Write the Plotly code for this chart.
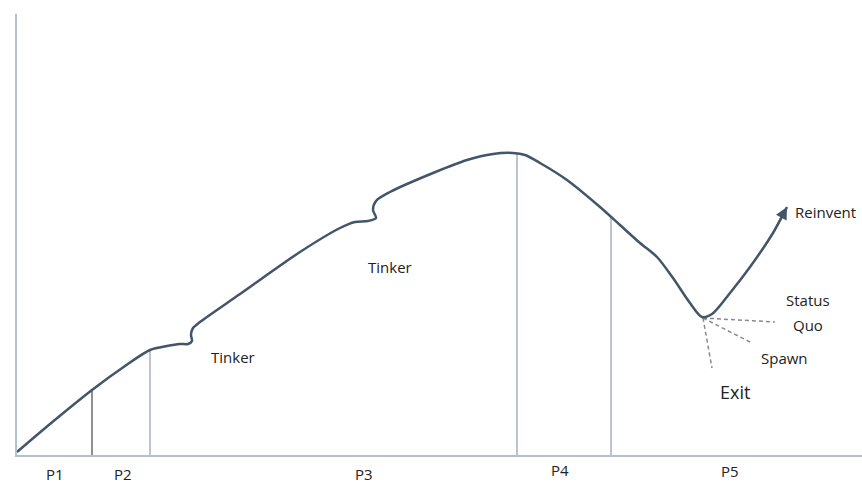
import plotly.graph_objects as go

# Main lifecycle curve (x, level)
curve_x = [17, 50, 92, 125, 150, 167, 180, 188, 192, 191, 193, 200, 240, 300, 340, 355, 368, 376, 373, 376, 390,
           433, 467, 493, 513, 525, 540, 567, 600, 620, 640, 657, 673, 690, 702, 712, 730, 750, 773, 787]
curve_y = [3, 31, 65, 89, 105, 109, 111, 111, 114, 120, 127, 133, 161, 203, 227, 233, 234, 237, 245, 254, 263,
           282, 295, 301, 302, 300, 292, 275, 248, 230, 212, 198, 177, 152, 138, 141, 162, 188, 222, 248]

# Phase dividers
divider_x = [92, 150, 517, 611]
divider_top = [65, 105, 302, 238]
divider_colors = ["#6b6b6b", "#a3b1c6", "#a3b1c6", "#a3b1c6"]

# Outcome branches from trough
branch_origin = (703, 137)
branch_names = ["Status Quo", "Spawn", "Exit"]
branch_end_x = [775, 752, 712]
branch_end_y = [133, 112, 87]

# Phase labels
phase_labels = ["P1", "P2", "P3", "P4", "P5"]
phase_x = [55, 123, 364, 560, 730]
phase_y = [-19, -19, -19, -15, -16]

# Text annotations
note_text = ["Tinker", "Tinker", "Reinvent", "Status", "Quo", "Spawn", "Exit"]
note_x = [233, 390, 793, 808, 808, 784, 735]
note_y = [98, 188, 243, 155, 130, 97, 63]
note_size = [15, 15, 15, 15, 15, 15, 18]
note_anchor = ["center", "center", "left", "center", "center", "center", "center"]

Y_MAX = 441
FONT = "Open Sans, Liberation Sans, sans-serif"

fig = go.Figure()

for x, top, c in zip(divider_x, divider_top, divider_colors):
    fig.add_trace(go.Scatter(x=[x, x], y=[0, top], mode="lines",
                             line=dict(color=c, width=1.5), hoverinfo="skip", showlegend=False))

for ex, ey in zip(branch_end_x, branch_end_y):
    fig.add_trace(go.Scatter(x=[branch_origin[0], ex], y=[branch_origin[1], ey], mode="lines",
                             line=dict(color="#8a8a8a", width=1.5, dash="4px,3px"),
                             hoverinfo="skip", showlegend=False))

fig.add_trace(go.Scatter(x=curve_x, y=curve_y, mode="lines",
                         line=dict(color="#44546a", width=2.5, shape="spline", smoothing=0.8),
                         hoverinfo="skip", showlegend=False))

# arrow head at end of curve
fig.add_annotation(x=curve_x[-1], y=curve_y[-1], ax=curve_x[-2], ay=curve_y[-2],
                   xref="x", yref="y", axref="x", ayref="y", text="",
                   showarrow=True, arrowhead=2, arrowsize=1.2, arrowwidth=2, arrowcolor="#44546a")

for t, x, y in zip(phase_labels, phase_x, phase_y):
    fig.add_annotation(x=x, y=y / Y_MAX, text=t, showarrow=False, xref="x", yref="paper",
                       xanchor="center", yanchor="middle",
                       font=dict(family=FONT, size=15, color="#222"))

for t, x, y, s, a in zip(note_text, note_x, note_y, note_size, note_anchor):
    fig.add_annotation(x=x, y=y, text=t, showarrow=False, xref="x", yref="y", xanchor=a,
                       yanchor="middle", font=dict(family=FONT, size=s, color="#222"))

fig.update_layout(
    width=862, height=485,
    margin=dict(l=17, r=0, t=14, b=30),
    paper_bgcolor="white", plot_bgcolor="white",
    xaxis=dict(range=[17, 862], showgrid=False, zeroline=False, showticklabels=False, ticks="",
               showline=True, linecolor="#b4c0d2", linewidth=1.5),
    yaxis=dict(range=[0, Y_MAX], showgrid=False, zeroline=False, showticklabels=False, ticks="",
               showline=True, linecolor="#b4c0d2", linewidth=1.5),
)

fig.write_html("out.html", config={"displayModeBar": False},
               post_script="document.body.style.margin='0';")
